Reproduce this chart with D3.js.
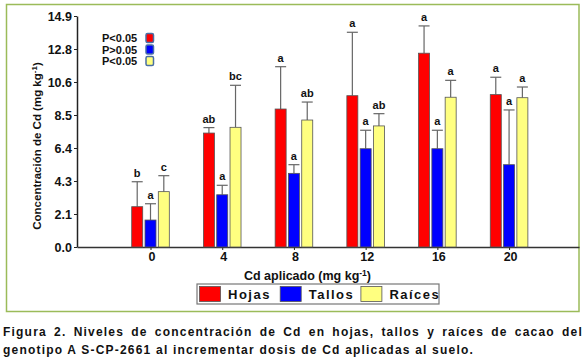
<!DOCTYPE html>
<html>
<head>
<meta charset="utf-8">
<script src="https://cdn.jsdelivr.net/npm/d3@7"></script>
<style>
  body { margin: 0; background: #fff; }
  text { font-family: "Liberation Sans", Arial, sans-serif; font-weight: bold; fill: #111; }
</style>
</head>
<body>
<div id="wrapper"></div>
<script>
// data
const doses = [0, 4, 8, 12, 16, 20]
const series = ["Hojas", "Tallos", "Raíces"]
const hojas = [2.6, 7.35, 8.9, 9.76, 12.5, 9.83]
const hojasErr = [1.61, 0.35, 2.73, 4.09, 1.76, 1.12]
const tallos = [1.74, 3.37, 4.75, 6.34, 6.34, 5.31]
const tallosErr = [1.05, 0.61, 0.56, 1.19, 1.19, 3.53]
const raices = [3.57, 7.72, 8.19, 7.81, 9.66, 9.63]
const raicesErr = [1.03, 2.71, 1.16, 0.79, 1.09, 0.69]
const hojasLetters = ["b", "ab", "a", "a", "a", "a"]
const tallosLetters = ["a", "a", "a", "a", "a", "a"]
const raicesLetters = ["c", "bc", "ab", "ab", "a", "a"]
const pLabels = ["P<0.05", "P>0.05", "P<0.05"]
const yTickLabels = ["0.0", "2.1", "4.3", "6.4", "8.5", "10.6", "12.8", "14.9"]
const colors = ["#ff0000", "#0000ff", "#ffff80"]

const values = [hojas, tallos, raices]
const errs = [hojasErr, tallosErr, raicesErr]
const letters = [hojasLetters, tallosLetters, raicesLetters]

const dimensions = {
  width: 586,
  height: 363,
  margin: { top: 16, right: 7, bottom: 116, left: 77 },
}

const svg = d3.select("#wrapper")
  .append("svg")
    .attr("width", dimensions.width)
    .attr("height", dimensions.height)

// green frame round the chart
svg.append("rect")
    .attr("x", 6.5)
    .attr("y", 4.5)
    .attr("width", 572.5)
    .attr("height", 307)
    .attr("fill", "none")
    .attr("stroke", "#9bbb59")
    .attr("stroke-width", 1.5)

const yMax = 14.9
const yScale = d3.scaleLinear()
  .domain([0, yMax])
  .range([dimensions.height - dimensions.margin.bottom, dimensions.margin.top])

const xScale = d3.scaleLinear()
  .domain([-4.1, 23.9])
  .range([dimensions.margin.left, dimensions.width - dimensions.margin.right])

// position of each series inside a group
const inner = d3.scaleBand()
  .domain(series)
  .range([-18.8, 18.8])
  .paddingInner(0.173)

// y axis
const yTickValues = yTickLabels.map((t, i) => yMax * i / (yTickLabels.length - 1))
const yAxis = svg.append("g")
    .attr("transform", `translate(${dimensions.margin.left},0)`)
    .call(d3.axisLeft(yScale)
      .tickValues(yTickValues)
      .tickFormat((d, i) => yTickLabels[i])
      .tickSize(3)
      .tickPadding(2)
      .tickSizeOuter(0))
yAxis.select(".domain").attr("stroke", "#222").attr("stroke-width", 1.5)
yAxis.selectAll(".tick line").attr("stroke", "#222")
yAxis.selectAll(".tick text")
    .attr("fill", "#111")
    .style("font-size", "12.5px")
    .style("font-family", "'Liberation Sans', Arial, sans-serif")
    .style("font-weight", "bold")

// x axis
const xAxis = svg.append("g")
    .attr("transform", `translate(0,${yScale(0)})`)
    .call(d3.axisBottom(xScale)
      .tickValues(doses)
      .tickFormat(d3.format("d"))
      .tickSize(3)
      .tickPadding(2)
      .tickSizeOuter(0))
xAxis.select(".domain").attr("stroke", "#333").attr("stroke-width", 1.5)
xAxis.selectAll(".tick line").attr("stroke", "#222")
xAxis.selectAll(".tick text")
    .attr("fill", "#111")
    .attr("dx", "1")
    .style("font-size", "12.5px")
    .style("font-family", "'Liberation Sans', Arial, sans-serif")
    .style("font-weight", "bold")

// bars, error bars, letters
series.forEach((s, si) => {
  const rows = doses.map((d, i) => ({ dose: d, v: values[si][i], e: errs[si][i], l: letters[si][i] }))
  const g = svg.append("g")
  const cx = d => xScale(d.dose) + inner(s) + inner.bandwidth() / 2
  const capW = inner.bandwidth() / 2

  g.selectAll("line.err")
    .data(rows)
    .join("line")
      .attr("x1", cx)
      .attr("x2", cx)
      .attr("y1", d => yScale(d.v))
      .attr("y2", d => yScale(d.v + d.e))
      .attr("stroke", "#666")
      .attr("stroke-width", 1.2)
  g.selectAll("line.cap")
    .data(rows)
    .join("line")
      .attr("x1", d => cx(d) - capW)
      .attr("x2", d => cx(d) + capW)
      .attr("y1", d => yScale(d.v + d.e))
      .attr("y2", d => yScale(d.v + d.e))
      .attr("stroke", "#666")
      .attr("stroke-width", 1.2)

  g.selectAll("rect")
    .data(rows)
    .join("rect")
      .attr("x", d => xScale(d.dose) + inner(s))
      .attr("width", inner.bandwidth())
      .attr("y", d => yScale(d.v))
      .attr("height", d => yScale(0) - yScale(d.v))
      .attr("fill", colors[si])
      .attr("stroke", "#555")
      .attr("stroke-width", 0.8)

  g.selectAll("text")
    .data(rows)
    .join("text")
      .attr("x", cx)
      .attr("y", d => yScale(d.v + d.e) - 5)
      .attr("text-anchor", "middle")
      .style("font-size", "11px")
      .text(d => d.l)
})

// significance legend, top left
const pLegend = svg.append("g")
pLabels.forEach((p, i) => {
  const cy = 38 + i * 11.5
  pLegend.append("text")
      .attr("x", 102)
      .attr("y", cy + 4)
      .style("font-size", "11px")
      .text(p)
  pLegend.append("rect")
      .attr("x", 146)
      .attr("y", cy - 4.5)
      .attr("width", 7.5)
      .attr("height", 9)
      .attr("rx", 1.5)
      .attr("fill", colors[i])
      .attr("stroke", "#4a6fa5")
      .attr("stroke-width", 1.5)
})

// axis titles
const yTitle = svg.append("text")
    .attr("transform", "translate(41,146) rotate(-90)")
    .attr("text-anchor", "middle")
    .style("font-size", "11.5px")
yTitle.append("tspan").text("Concentración de Cd (mg kg")
yTitle.append("tspan").attr("dy", -4).style("font-size", "8px").text("-1")
yTitle.append("tspan").attr("dy", 4).text(")")

const xTitle = svg.append("text")
    .attr("x", 307.5)
    .attr("y", 279.5)
    .attr("text-anchor", "middle")
    .style("font-size", "12.5px")
xTitle.append("tspan").text("Cd aplicado (mg kg")
xTitle.append("tspan").attr("dy", -4).style("font-size", "8.5px").text("-1")
xTitle.append("tspan").attr("dy", 4).text(")")

// series legend, bottom
const legend = svg.append("g")
legend.append("rect")
    .attr("x", 197)
    .attr("y", 284)
    .attr("width", 242)
    .attr("height", 20)
    .attr("fill", "#fff")
    .attr("stroke", "#777")
    .attr("stroke-width", 1.2)
series.forEach((s, i) => {
  const lx = 199.5 + i * 80.7
  legend.append("rect")
      .attr("x", lx)
      .attr("y", 286.5)
      .attr("width", 21)
      .attr("height", 15)
      .attr("fill", colors[i])
      .attr("stroke", "#555")
      .attr("stroke-width", 0.8)
  legend.append("text")
      .attr("x", lx + 28.5)
      .attr("y", 299)
      .style("font-size", "13px")
      .style("letter-spacing", "1.5px")
      .text(s)
})

// figure caption: second line sets the letter spacing, first line is
// justified to the right edge by widening its word gaps
const caption = [
  "Figura 2. Niveles de concentración de Cd en hojas, tallos y raíces de cacao del",
  "genotipo A S-CP-2661 al incrementar dosis de Cd aplicadas al suelo.",
]
const captionWidths = [580, 471]
const probe = svg.append("text").style("font-size", "12px").text(caption[1])
const letterSp = (captionWidths[1] - probe.node().getComputedTextLength()) / caption[1].length
probe.remove()
caption.forEach((c, i) => {
  const t = svg.append("text")
      .attr("x", 3)
      .attr("y", 336 + i * 17.5)
      .style("font-size", "12px")
      .style("letter-spacing", `${letterSp}px`)
      .text(c)
  if (i === 0) {
    const natural = t.node().getComputedTextLength()
    const gaps = c.split(" ").length - 1
    t.style("word-spacing", `${Math.max(0, (captionWidths[0] - natural) / gaps)}px`)
  }
})
</script>
</body>
</html>
